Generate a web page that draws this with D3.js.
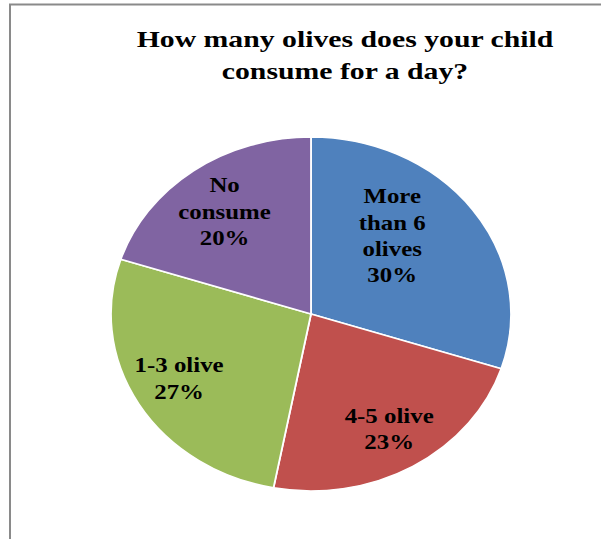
<!DOCTYPE html>
<html>
<head>
<meta charset="utf-8">
<script src="https://cdn.jsdelivr.net/npm/d3@7"></script>
<style>
  html, body { margin: 0; padding: 0; background: #fff; }
  svg { display: block; }
  text { font-family: "Liberation Serif", "Times New Roman", serif; font-weight: bold; fill: #000; }
</style>
</head>
<body>
<svg id="chart" width="601" height="539"></svg>
<script>
// Survey answers, clockwise from 12 o'clock
const categories = ["More than 6 olives", "4-5 olive", "1-3 olive", "No consume"];
const shares = [30, 23, 27, 20];
const sliceColors = ["#4F81BD", "#C0504D", "#9BBB59", "#8064A2"];
const labelLines = [
  ["More", "than 6", "olives"],
  ["4-5 olive"],
  ["1-3 olive"],
  ["No", "consume"]
];
const titleLines = ["How many olives does your child", "consume for a day?"];

const W = 601, H = 539;
const svg = d3.select("#chart");

// chart frame (runs off the right and bottom edges)
svg.append("rect")
  .attr("x", 10).attr("y", 4.5)
  .attr("width", 800).attr("height", 800)
  .attr("fill", "none")
  .attr("stroke", "#8a8a8a")
  .attr("stroke-width", 2);

// title
const titleSX = 1.24;
titleLines.forEach((t, i) => {
  svg.append("g")
    .attr("transform", `translate(345,${47 + i * 32}) scale(${titleSX},1)`)
    .append("text")
    .attr("text-anchor", "middle")
    .style("font-size", "24px")
    .text(t);
});

// pie, stretched horizontally into an ellipse
const cx = 311, cy = 314, r = 177, sx = 1.13;
const data = categories.map((c, i) => ({ cat: c, value: shares[i], color: sliceColors[i], lines: labelLines[i] }));
const pie = d3.pie().sort(null).value(d => d.value);
const arcs = pie(data);
const arc = d3.arc().innerRadius(0).outerRadius(r);

const pieG = svg.append("g").attr("transform", `translate(${cx},${cy}) scale(${sx},1)`);
pieG.selectAll("path")
  .data(arcs)
  .join("path")
  .attr("d", arc)
  .attr("fill", d => d.data.color)
  .attr("stroke", "#fff")
  .attr("stroke-width", 1.6);

// data labels placed along each slice's mid-angle, with small best-fit nudges
const labelRadius = r * 0.65;
const nudge = {
  "More than 6 olives": [-24, -11],
  "4-5 olive": [12, 16],
  "1-3 olive": [-20, 5.5],
  "No consume": [-10, -9.5]
};
const fs = 22, lineH = 26.3, capH = 14.6;
arcs.forEach(a => {
  const mid = (a.startAngle + a.endAngle) / 2;
  const n = nudge[a.data.cat];
  const x = cx + Math.sin(mid) * labelRadius * sx + n[0];
  const y = cy - Math.cos(mid) * labelRadius + n[1];
  const lines = a.data.lines.concat([a.data.value + "%"]);
  const blockH = capH + (lines.length - 1) * lineH;
  const y0 = y - blockH / 2 + capH;
  const g = svg.append("g").attr("transform", `translate(${x},${y0}) scale(${sx},1)`);
  lines.forEach((t, i) => {
    g.append("text")
      .attr("text-anchor", "middle")
      .attr("y", i * lineH)
      .style("font-size", fs + "px")
      .text(t);
  });
});
</script>
</body>
</html>
